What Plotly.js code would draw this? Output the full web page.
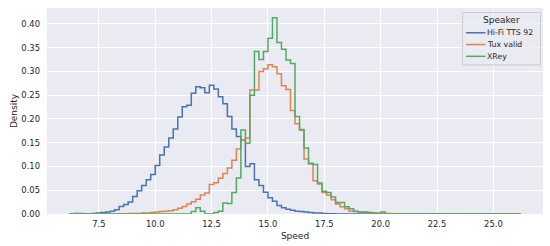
<!DOCTYPE html>
<html>
<head>
<meta charset="utf-8">
<script src="https://cdn.plot.ly/plotly-3.0.1.min.js"></script>
<style>html,body{margin:0;padding:0;background:#fff;}#chart{width:550px;height:246px;}</style>
</head>
<body>
<div id="chart"></div>
<script>
// Histogram bins (common to all speakers)
const binStart = 6.2;
const binWidth = 0.2;
const binCount = 100;

const legendTitle = "Speaker";
const speakers = ["Hi-Fi TTS 92", "Tux valid", "XRey"];
const colors = ["#4C72B0", "#DD8452", "#55A868"];

// Density per bin (bin i = [6.2+0.2i, 6.4+0.2i])
const hifiDensity = [
  0.0005,0.001,0.001,0.0005,0.0005,0.001,0.002,0.003,0.004,0.006,
  0.009,0.016,0.020,0.025,0.037,0.049,0.060,0.072,0.083,0.102,
  0.124,0.141,0.160,0.179,0.204,0.226,0.229,0.254,0.268,0.266,
  0.255,0.271,0.263,0.247,0.232,0.205,0.179,0.163,0.155,0.100,
  0.106,0.072,0.060,0.046,0.034,0.027,0.018,0.013,0.010,0.008,
  0.006,0.005,0.004,0.003,0.002,0.002,0.001,0.0005,0.0005,0,
  0,0,0,0,0,0,0,0,0,0,
  0,0,0,0,0,0,0,0,0,0,
  0,0,0,0,0,0,0,0,0,0,
  0,0,0,0,0,0,0,0,0,0
];
const tuxDensity = [
  0,0,0,0,0,0,0,0,0,0,
  0,0,0.0005,0.001,0.001,0.001,0.002,0.002,0.003,0.004,
  0.005,0.006,0.007,0.009,0.012,0.016,0.021,0.026,0.031,0.040,
  0.044,0.062,0.066,0.075,0.085,0.097,0.113,0.137,0.155,0.160,
  0.261,0.261,0.300,0.306,0.314,0.310,0.295,0.270,0.262,0.218,
  0.190,0.178,0.116,0.105,0.070,0.063,0.045,0.040,0.030,0.021,
  0.015,0.011,0.006,0.005,0.004,0.003,0.003,0.002,0.002,0.001,
  0.001,0.0005,0,0,0,0,0,0,0,0,
  0,0,0,0,0,0,0,0,0,0,
  0,0,0,0,0,0,0,0,0,0
];
const xreyDensity = [
  0,0,0,0,0,0,0,0,0,0,
  0,0,0,0,0,0,0,0,0,0,
  0,0,0,0,0,0,0,0.005,0.013,0.006,
  0,0,0.003,0.006,0.023,0.022,0.045,0.076,0.177,0.149,
  0.250,0.342,0.325,0.342,0.370,0.413,0.361,0.347,0.324,0.317,
  0.205,0.177,0.139,0.107,0.104,0.065,0.048,0.045,0.036,0.024,
  0.024,0.015,0.011,0.006,0.004,0.004,0.003,0.002,0,0.004,
  0,0,0,0,0,0,0,0,0,0,
  0,0,0,0,0,0,0,0,0,0,
  0,0,0,0,0,0,0,0,0,0
];

const xTickVals = [7.5, 10.0, 12.5, 15.0, 17.5, 20.0, 22.5, 25.0];
const yTickVals = [0, 0.05, 0.10, 0.15, 0.20, 0.25, 0.30, 0.35, 0.40];

const edges = [];
for (let i = 0; i <= binCount; i++) edges.push(+(binStart + i * binWidth).toFixed(4));

function stepTrace(name, dens, color) {
  return {
    type: "scatter", mode: "lines", name: name,
    x: edges, y: dens.concat([dens[dens.length - 1]]),
    line: {shape: "hv", color: color, width: 1.5},
    hoverinfo: "skip", showlegend: false
  };
}

const densities = [hifiDensity, tuxDensity, xreyDensity];
const traces = speakers.map((s, k) => stepTrace(s, densities[k], colors[k]));

const dataMin = edges[0], dataMax = edges[edges.length - 1];
const pad = (dataMax - dataMin) * 0.05;
const yMax = Math.max(...xreyDensity, ...tuxDensity, ...hifiDensity) * 1.05;

const fontFam = "DejaVu Sans, sans-serif";
const txt = "#262626";

// Legend drawn in plot-area (paper) coordinates, matplotlib-style
const W = 550, H = 246, mL = 46.7, mR = 7, mT = 8, mB = 31.7;
const pw = W - mL - mR, ph = H - mT - mB;
const px = v => (v - mL) / pw;
const py = v => 1 - (v - mT) / ph;

const shapes = [{
  type: "rect", xref: "paper", yref: "paper", layer: "above",
  x0: px(462.5), x1: px(540.5), y0: py(12.5), y1: py(65),
  fillcolor: "rgba(234,234,242,0.8)", line: {color: "#cccccc", width: 1}
}];
const annotations = [{
  xref: "paper", yref: "paper", x: px(501.5), y: py(20.5), xanchor: "center", yanchor: "middle",
  text: legendTitle, showarrow: false, font: {family: fontFam, size: 9, color: txt}
}];
const rowY = [32.8, 44.6, 56.4];
speakers.forEach((s, k) => {
  shapes.push({
    type: "line", xref: "paper", yref: "paper", layer: "above",
    x0: px(466), x1: px(485.5), y0: py(rowY[k]), y1: py(rowY[k]),
    line: {color: colors[k], width: 1.5}
  });
  annotations.push({
    xref: "paper", yref: "paper", x: px(486), y: py(rowY[k]), xanchor: "left", yanchor: "middle",
    text: s, showarrow: false, borderpad: 0, font: {family: fontFam, size: 7.8, color: txt}
  });
});

const layout = {
  width: W, height: H,
  margin: {l: mL, r: mR, t: mT, b: mB, pad: 0},
  paper_bgcolor: "#ffffff",
  plot_bgcolor: "#EAEAF2",
  font: {family: fontFam, size: 8.4, color: txt},
  showlegend: false,
  xaxis: {
    range: [dataMin - pad, dataMax + pad],
    tickvals: xTickVals, tickformat: ".1f",
    showgrid: true, gridcolor: "#ffffff", gridwidth: 1,
    zeroline: false, showline: false, ticks: "",
    ticklabelstandoff: 4,
    tickfont: {family: fontFam, size: 8.4, color: txt},
    title: {text: "Speed", font: {family: fontFam, size: 9, color: txt}, standoff: 4},
    automargin: false
  },
  yaxis: {
    range: [0, yMax],
    tickvals: yTickVals, tickformat: ".2f",
    showgrid: true, gridcolor: "#ffffff", gridwidth: 1,
    zeroline: false, showline: false, ticks: "",
    ticklabelstandoff: 6,
    tickfont: {family: fontFam, size: 8.4, color: txt},
    title: {text: "Density", font: {family: fontFam, size: 9, color: txt}, standoff: 2},
    automargin: false
  },
  shapes: shapes,
  annotations: annotations
};

Plotly.newPlot("chart", traces, layout, {staticPlot: true, displayModeBar: false});
</script>
</body>
</html>
